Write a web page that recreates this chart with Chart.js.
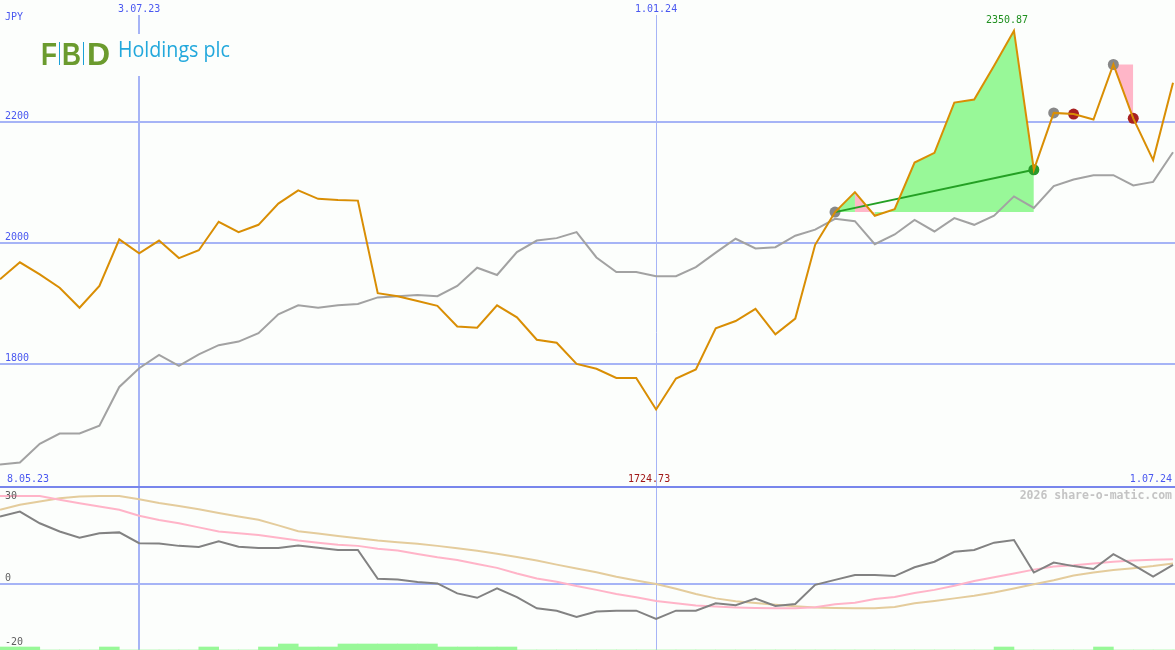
<!DOCTYPE html>
<html>
<head>
<meta charset="utf-8">
<script src="https://cdn.jsdelivr.net/npm/chart.js@4.4.1/dist/chart.umd.min.js"></script>
<style>
  html, body { margin: 0; padding: 0; background: #fcfefc; }
  #wrap { width: 1175px; height: 650px; position: relative; }
</style>
</head>
<body>
<div id="wrap"><canvas id="chart"></canvas></div>
<script>
// Weekly closes (JPY), one value per week starting mid-May 2023
const price = [1940, 1968, 1948, 1926, 1893, 1929, 2006, 1983, 2004, 1975,
  1988, 2035, 2018, 2030, 2065, 2087, 2073, 2071, 2070, 1917,
  1912, 1904, 1896, 1862, 1860, 1897, 1877, 1840, 1835, 1800,
  1792, 1777, 1777, 1724.73, 1776, 1791, 1859, 1871, 1891, 1849,
  1875, 1997, 2051, 2084, 2045, 2056, 2133, 2149, 2232, 2237,
  2293, 2350.87, 2121, 2215, 2213, 2204, 2295, 2206, 2137, 2265];

// Comparison index (grey line)
const index = [1634, 1637, 1668, 1685, 1685, 1698, 1762, 1793, 1815, 1797,
  1816, 1831, 1837, 1851, 1882, 1897, 1893, 1897, 1899, 1910,
  1912, 1914, 1912, 1929, 1959, 1947, 1985, 2004, 2008, 2018,
  1976, 1952, 1952, 1945, 1945, 1960, 1984, 2007, 1991, 1993,
  2012, 2022, 2040, 2036, 1998, 2014, 2038, 2019, 2041, 2030,
  2045, 2077, 2058, 2094, 2105, 2112, 2112, 2095, 2101, 2150];

// Lower panel: momentum and its two averages
const momentum = [23.0, 24.7, 20.7, 17.9, 15.8, 17.3, 17.6, 13.9, 13.8, 13.0,
  12.6, 14.6, 12.7, 12.3, 12.3, 13.1, 12.4, 11.6, 11.6, 1.8,
  1.5, 0.7, 0.2, -3.2, -4.7, -1.5, -4.5, -8.3, -9.1, -11.2,
  -9.4, -9.1, -9.1, -11.9, -9.1, -9.1, -6.6, -7.2, -5.0, -7.5,
  -6.8, -0.3, 1.4, 3.1, 3.1, 2.7, 5.7, 7.6, 11.0, 11.6,
  14.1, 15.0, 3.9, 7.3, 6.1, 5.1, 10.2, 6.5, 2.5, 6.5];
const avgFast = [30.0, 30.0, 30.0, 28.7, 27.5, 26.4, 25.3, 23.3, 21.8, 20.7,
  19.3, 17.9, 17.3, 16.7, 15.8, 14.8, 14.1, 13.4, 13.0, 12.0,
  11.4, 10.2, 9.1, 8.2, 6.8, 5.5, 3.6, 1.9, 0.8, -0.7,
  -2.0, -3.4, -4.5, -5.8, -6.6, -7.3, -7.7, -8.0, -8.2, -8.3,
  -8.3, -7.9, -6.9, -6.4, -5.1, -4.4, -3.1, -2.0, -0.6, 1.0,
  2.3, 3.6, 4.9, 6.0, 6.4, 7.0, 7.6, 8.0, 8.3, 8.4];
const avgSlow = [25.3, 27.0, 28.1, 29.2, 29.8, 30.0, 30.0, 28.9, 27.6, 26.6,
  25.5, 24.2, 23.0, 21.9, 20.0, 18.0, 17.2, 16.4, 15.6, 14.8,
  14.2, 13.7, 13.0, 12.2, 11.3, 10.3, 9.2, 8.0, 6.6, 5.3,
  4.0, 2.5, 1.2, 0.0, -1.6, -3.4, -4.9, -5.9, -6.5, -7.1,
  -7.6, -8.0, -8.2, -8.3, -8.3, -7.8, -6.6, -5.8, -4.9, -4.0,
  -2.9, -1.5, -0.1, 1.3, 2.9, 3.9, 4.8, 5.4, 6.1, 7.0];

// Volume markers along the bottom (0 none, 1 low, 2 high)
const volume = [1, 1, 0, 0, 0, 1, 0, 0, 0, 0,
  1, 0, 0, 1, 2, 1, 1, 2, 2, 2,
  2, 2, 1, 1, 1, 1, 0, 0, 0, 0,
  0, 0, 0, 0, 0, 0, 0, 0, 0, 0,
  0, 0, 0, 0, 0, 0, 0, 0, 0, 0,
  1, 0, 0, 0, 0, 1, 0, 0, 0, 0];

// Trades: entry / exit week index
const tradeEntry = [42, 53, 56];
const tradeExit = [52, 54, 57];
const pinkWeeks = [43];

// Axis texts
const priceTicks = [2200, 2000, 1800];
const lowerTicks = [30, 0, -20];
const dateTicks = [[7, '3.07.23'], [33, '1.01.24']];
const startLabel = '8.05.23';
const endLabel = '1.07.24';
const currency = 'JPY';

const C = {
  bg: '#fcfefc', grid: '#a6b4f6', sep: '#7886ec', blue: '#4a58f0',
  orange: '#d98e04', grey: '#a2a2a2', dark: '#828282', pink: '#ffb4c8', tan: '#e4cc9c',
  green: '#98f898', pinkFill: '#ffb6c8', tradeGreen: '#24a024',
  mkGrey: '#888888', mkGreen: '#2a9a2a', mkRed: '#a82020'
};
const MONO = '"DejaVu Sans Mono", monospace';
const PANEL_SPLIT = 1597; // price value where the lower panel starts

const pts = (arr, from = 0, to = arr.length - 1) =>
  arr.slice(from, to + 1).map((v, i) => ({ x: from + i, y: v }));

const maxIdx = price.indexOf(Math.max(...price));
const minIdx = price.indexOf(Math.min(...price));

const datasets = [];

// trade fills
tradeEntry.forEach((e, t) => {
  const x = tradeExit[t];
  const win = price[x] > price[e];
  datasets.push({
    type: 'line', data: pts(price, e, x), yAxisID: 'y', order: 10,
    borderWidth: 0, borderColor: 'rgba(0,0,0,0)', pointRadius: 0,
    fill: { value: price[e] },
    backgroundColor: win ? C.green : C.pinkFill,
    segment: {
      backgroundColor: ctx => pinkWeeks.includes(e + ctx.p0DataIndex) ? C.pinkFill : undefined
    }
  });
});

datasets.push({
  type: 'bar', data: volume.map((v, i) => ({ x: i + 0.5, y: v })), yAxisID: 'yv', order: 9,
  backgroundColor: C.green, borderWidth: 0, barPercentage: 1, categoryPercentage: 1
});

[[avgSlow, C.tan], [avgFast, C.pink], [momentum, C.dark]].forEach(([arr, col], k) => {
  datasets.push({
    type: 'line', data: pts(arr), yAxisID: 'y2', order: 8 - k * 0.1,
    borderColor: col, borderWidth: 2, pointRadius: 0, tension: 0
  });
});

datasets.push({
  type: 'line', data: pts(index), yAxisID: 'y', order: 7,
  borderColor: C.grey, borderWidth: 2, pointRadius: 0
});

// entry / exit markers
const markers = [];
const markerColors = [];
tradeEntry.forEach((e, t) => {
  const x = tradeExit[t];
  markers.push({ x: e, y: price[e] }); markerColors.push(C.mkGrey);
  markers.push({ x: x, y: price[x] }); markerColors.push(price[x] > price[e] ? C.mkGreen : C.mkRed);
});
datasets.push({
  type: 'line', data: markers, yAxisID: 'y', order: 6, showLine: false,
  pointRadius: 5.5, pointBackgroundColor: markerColors, pointBorderWidth: 0
});

// trade line for the winning trade
tradeEntry.forEach((e, t) => {
  const x = tradeExit[t];
  if (price[x] > price[e]) {
    datasets.push({
      type: 'line', data: [{ x: e, y: price[e] }, { x: x, y: price[x] }], yAxisID: 'y', order: 5.5,
      borderColor: C.tradeGreen, borderWidth: 2, pointRadius: 0
    });
  }
});

datasets.push({
  type: 'line', data: pts(price), yAxisID: 'y', order: 5,
  borderColor: C.orange, borderWidth: 2, pointRadius: 0
});

const decor = {
  id: 'decor',
  beforeDraw(chart) {
    const { ctx, width, height } = chart;
    ctx.save();
    ctx.fillStyle = C.bg;
    ctx.fillRect(0, 0, width, height);
    ctx.restore();
  },
  beforeDatasetsDraw(chart) {
    const { ctx, chartArea: a, scales } = chart;
    const { x, y, y2 } = scales;
    ctx.save();
    ctx.strokeStyle = C.grid;
    ctx.lineWidth = 2;
    priceTicks.forEach(v => {
      const py = Math.round(y.getPixelForValue(v));
      ctx.beginPath(); ctx.moveTo(a.left, py); ctx.lineTo(a.right, py); ctx.stroke();
    });
    const z = Math.round(y2.getPixelForValue(0));
    ctx.beginPath(); ctx.moveTo(a.left, z); ctx.lineTo(a.right, z); ctx.stroke();
    dateTicks.forEach(([i], k) => {
      const px = Math.round(x.getPixelForValue(i)) + (k === 0 ? 0 : 0.5);
      ctx.lineWidth = k === 0 ? 2 : 1;
      ctx.beginPath(); ctx.moveTo(px, a.top + 15); ctx.lineTo(px, a.bottom); ctx.stroke();
    });
    // panel separator
    const sy = Math.round(y.getPixelForValue(PANEL_SPLIT));
    ctx.strokeStyle = C.sep;
    ctx.lineWidth = 2;
    ctx.beginPath(); ctx.moveTo(a.left, sy); ctx.lineTo(a.right, sy); ctx.stroke();
    ctx.restore();
  },
  afterDatasetsDraw(chart) {
    const { ctx, chartArea: a, scales } = chart;
    const { x, y, y2 } = scales;
    const sy = Math.round(y.getPixelForValue(PANEL_SPLIT));
    ctx.save();
    ctx.font = '10px ' + MONO;
    ctx.textBaseline = 'middle';
    ctx.fillStyle = C.blue;
    ctx.textAlign = 'left';
    ctx.fillText(currency, 5, 17);
    priceTicks.forEach(v => ctx.fillText(String(v), 5, y.getPixelForValue(v) - 6));
    ctx.textAlign = 'center';
    dateTicks.forEach(([i, t]) => ctx.fillText(t, x.getPixelForValue(i), 9));
    ctx.textAlign = 'left';
    ctx.fillText(startLabel, 7, sy - 8);
    ctx.textAlign = 'right';
    ctx.fillText(endLabel, a.right - 3, sy - 8);

    // extremes
    ctx.textAlign = 'center';
    ctx.fillStyle = '#209020';
    ctx.fillText(price[maxIdx].toFixed(2), x.getPixelForValue(maxIdx) - 7, y.getPixelForValue(price[maxIdx]) - 10);
    ctx.fillStyle = '#a01818';
    ctx.fillText(price[minIdx].toFixed(2), x.getPixelForValue(minIdx) - 7, sy - 8);

    // lower labels
    ctx.fillStyle = '#606060';
    ctx.textAlign = 'left';
    lowerTicks.forEach(v => {
      const py = y2.getPixelForValue(v);
      ctx.fillText(String(v), 5, v === 0 ? py - 6 : py);
    });

    // watermark
    ctx.font = 'bold 11.5px ' + MONO;
    ctx.fillStyle = '#c4c4c4';
    ctx.textAlign = 'right';
    ctx.fillText('2026 share-o-matic.com', a.right - 3, sy + 9);

    // logo
    ctx.fillStyle = C.bg;
    ctx.fillRect(36, 34, 200, 42);
    ctx.textBaseline = 'alphabetic';
    ctx.textAlign = 'left';
    ctx.font = 'bold 32px "Liberation Sans", Arial, sans-serif';
    ctx.fillStyle = '#6b9b2e';
    ctx.fillText('F', 41, 65, 16);
    ctx.fillText('B', 62, 65, 19);
    ctx.fillText('D', 87, 65, 24);
    ctx.fillStyle = '#1aa0d8';
    ctx.fillRect(59, 42, 1, 23);
    ctx.fillRect(83, 42, 1, 23);
    ctx.font = '21px "Open Sans", "Noto Sans", sans-serif';
    ctx.fillStyle = '#22a8dc';
    ctx.fillText('Holdings plc', 118, 57, 112);
    ctx.restore();
  }
};

new Chart(document.getElementById('chart'), {
  type: 'line',
  data: { datasets },
  options: {
    responsive: true,
    maintainAspectRatio: false,
    animation: false,
    layout: { padding: 0, autoPadding: false },
    plugins: { legend: { display: false }, tooltip: { enabled: false } },
    scales: {
      x: { type: 'linear', min: 0, max: 59.1, display: false, offset: false },
      y: { type: 'linear', min: 1327.2, max: 2401.6, display: false },
      y2: { type: 'linear', min: -22.5, max: 199.1, display: false },
      yv: { type: 'linear', min: 0, max: 216.7, display: false }
    }
  },
  plugins: [decor]
});
</script>
</body>
</html>
